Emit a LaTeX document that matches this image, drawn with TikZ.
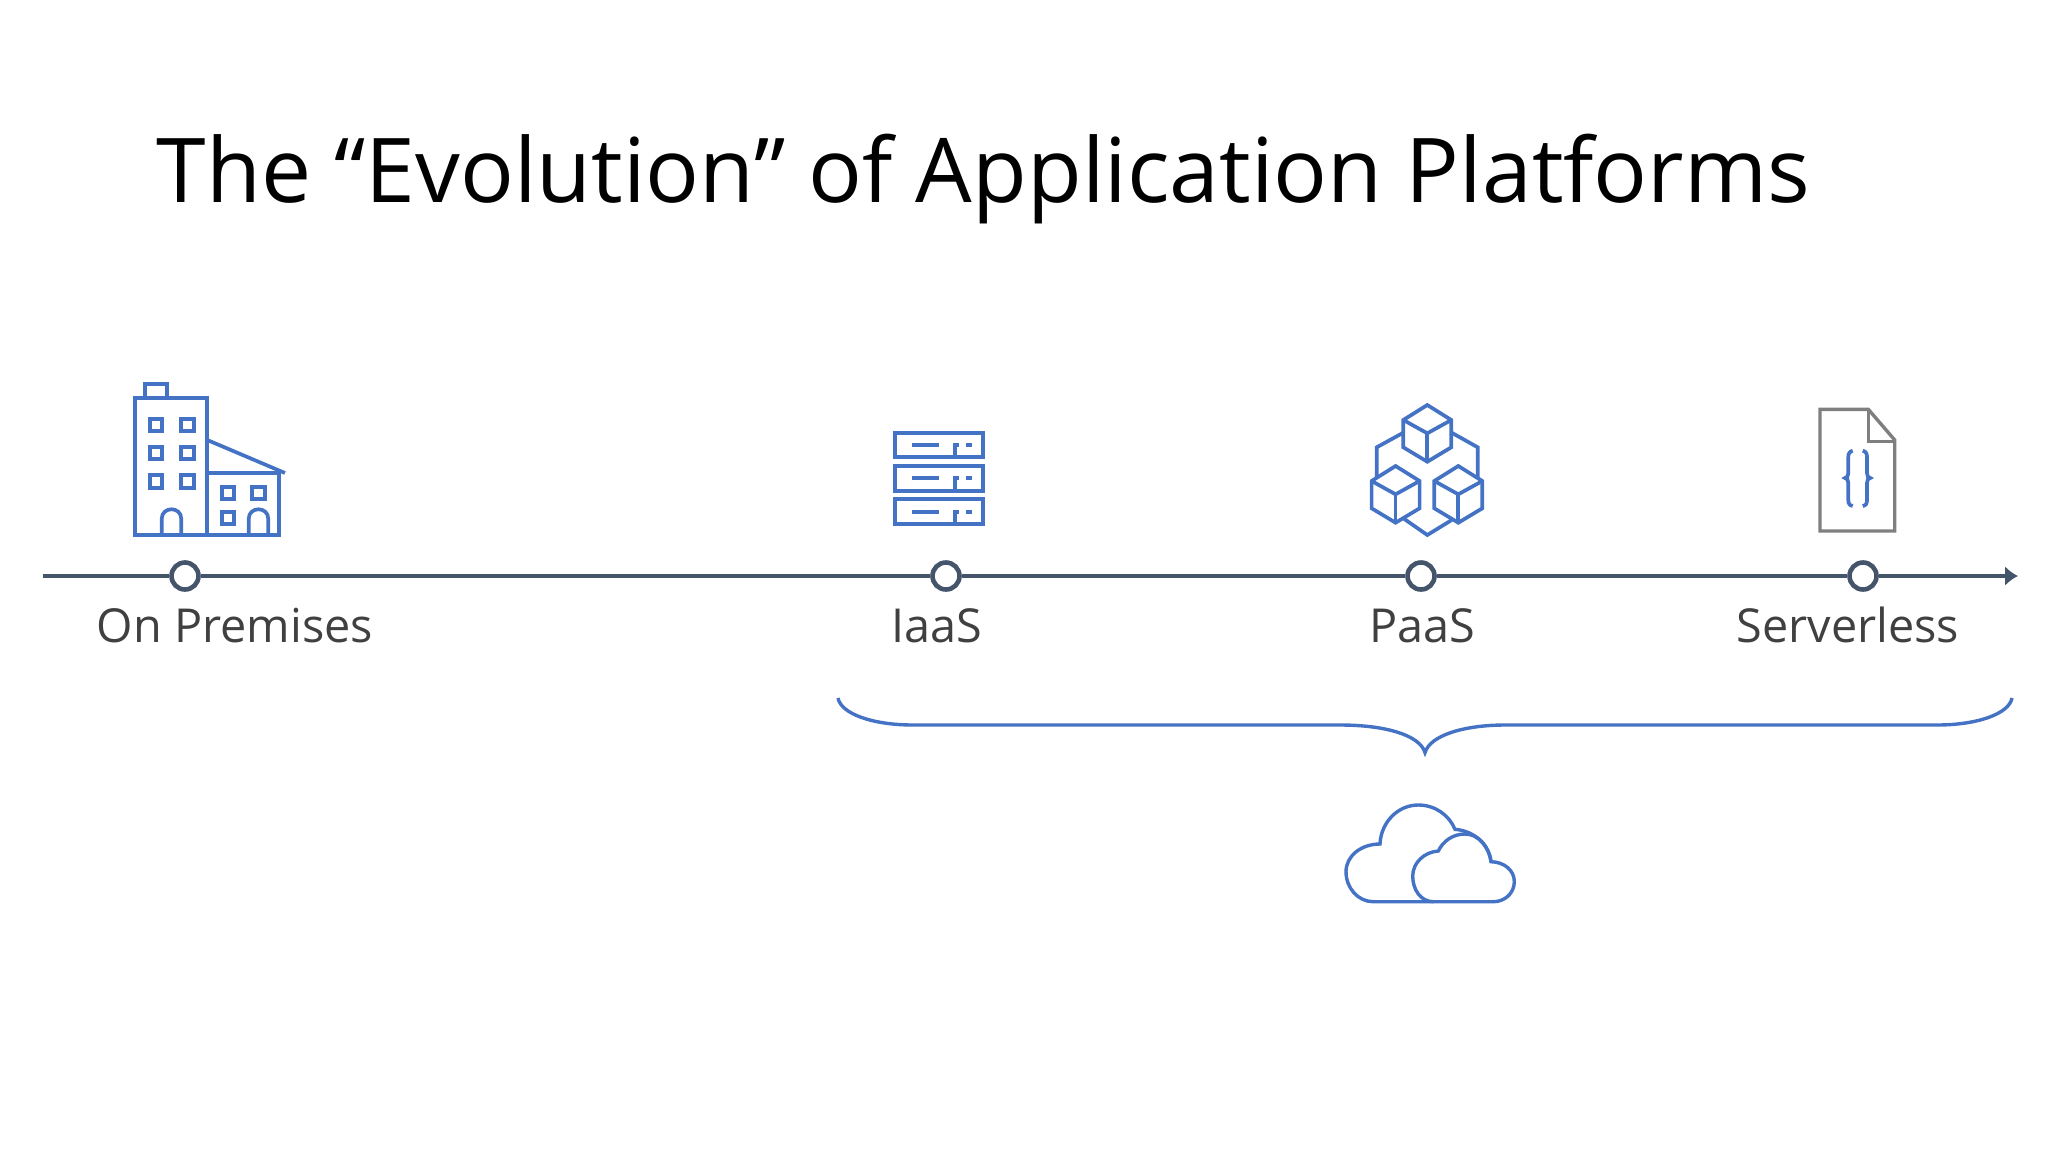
\documentclass[tikz,border=0pt]{standalone}
\usepackage{fontspec}
\setmainfont{Open Sans}
\usetikzlibrary{arrows.meta}
\definecolor{iconblue}{HTML}{4472C4}
\definecolor{axisblue}{HTML}{44546A}
\definecolor{icongray}{HTML}{7F7F7F}
\definecolor{labelgray}{HTML}{404040}
\tikzset{
  icon/.style={iconblue,line width=3.7pt},
  thinicon/.style={iconblue,line width=3.4pt},
  axis/.style={axisblue,line width=4.4pt},
  stop/.style={circle,draw=axisblue,fill=white,line width=4.6pt,inner sep=0pt,minimum size=27pt},
  label/.style={labelgray,font=\fontsize{46.8}{56}\selectfont,anchor=base}
}

\begin{document}
\begin{tikzpicture}[x=1pt,y=-1pt]
    \useasboundingbox (0,0) rectangle (2048,1152);
    \node[font=\fontsize{89.4}{106}\selectfont,anchor=base] (title) at (983.5,202){The “Evolution” of Application Platforms};
    % time line
    \coordinate (axisstart) at (43,576);
    \coordinate (axisend) at (2018,576);
    \node[stop] (onprem) at (185,576){};
    \node[stop] (iaas) at (946,576){};
    \node[stop] (paas) at (1421,576){};
    \node[stop] (serverless) at (1863,576){};
    \draw[axis] (axisstart)--(onprem);
    \draw[axis] (onprem)--(iaas);
    \draw[axis] (iaas)--(paas);
    \draw[axis] (paas)--(serverless);
    \draw[axis,-{Latex[length=13pt,width=20pt]}] (serverless)--(axisend);
    \node[label] (onpremlabel) at (235,642){On Premises};
    \node[label] (iaaslabel) at (937,642){IaaS};
    \node[label] (paaslabel) at (1422,642){PaaS};
    \node[label] (serverlesslabel) at (1848,642){Serverless};
    % building
    \draw[icon] (135.3,397.7) rectangle (207.3,534.7);
    \draw[icon] (145.3,397.7)--(145.3,383.7)--(166.7,383.7)--(166.7,397.7);
    \draw[icon] (149.7,419.3) rectangle (162.3,431);
    \draw[icon] (181,419.3) rectangle (193.7,431);
    \draw[icon] (149.7,447) rectangle (162.3,459);
    \draw[icon] (181,447) rectangle (193.7,459);
    \draw[icon] (149.7,475.3) rectangle (162.3,487.7);
    \draw[icon] (181,475.3) rectangle (193.7,487.7);
    \draw[icon] (161.7,534.7)--(161.7,519) .. controls (161.7,506) and (181.3,506) .. (181.3,519)--(181.3,534.7);
    \draw[icon] (207.3,472.7)--(279.3,472.7)--(279.3,534.7)--(207.3,534.7);
    \draw[icon] (207.3,440)--(285,473);
    \draw[icon] (221.7,486.7) rectangle (234,498.7);
    \draw[icon] (252.3,486.7) rectangle (265,498.7);
    \draw[icon] (221.7,512.3) rectangle (234,524.3);
    \draw[icon] (248.7,534.7)--(248.7,519) .. controls (248.7,506) and (268.3,506) .. (268.3,519)--(268.3,534.7);
    % servers
    \draw[icon] (895,432.7) rectangle (982.7,457.3);
    \draw[icon] (912.3,444.7)--(939,444.7);
    \draw[icon] (952.7,444.7)--(959,444.7);
    \draw[icon] (966,444.7)--(972.3,444.7);
    \draw[icon] (955.3,444.7)--(955.3,457.3);
    \draw[icon] (895,466) rectangle (982.7,490.7);
    \draw[icon] (912.3,478.3)--(939,478.3);
    \draw[icon] (952.7,478.3)--(959,478.3);
    \draw[icon] (966,478.3)--(972.3,478.3);
    \draw[icon] (955.3,478.3)--(955.3,490.7);
    \draw[icon] (895,499.3) rectangle (982.7,524.3);
    \draw[icon] (912.3,511.7)--(939,511.7);
    \draw[icon] (952.7,511.7)--(959,511.7);
    \draw[icon] (966,511.7)--(972.3,511.7);
    \draw[icon] (955.3,511.7)--(955.3,524.3);
    % cubes
    \draw[icon] (1427.3,405)--(1451.3,420)--(1451.3,447.3)--(1427.3,461.7)--(1403.3,447.3)--(1403.3,420)--cycle;
    \draw[icon] (1403.3,420)--(1427.3,433.3)--(1451.3,420);
    \draw[icon] (1427.3,433.3)--(1427.3,461.7);
    \draw[icon] (1395.6,466)--(1419.6,481)--(1419.6,508.3)--(1395.6,522.7)--(1371.6,508.3)--(1371.6,481)--cycle;
    \draw[icon] (1371.6,481)--(1395.6,494.3)--(1419.6,481);
    \draw[icon] (1395.6,494.3)--(1395.6,522.7);
    \draw[icon] (1458.3,466)--(1482.3,481)--(1482.3,508.3)--(1458.3,522.7)--(1434.3,508.3)--(1434.3,481)--cycle;
    \draw[icon] (1434.3,481)--(1458.3,494.3)--(1482.3,481);
    \draw[icon] (1458.3,494.3)--(1458.3,522.7);
    \draw[icon] (1403.3,432.7)--(1376.7,447.3)--(1376.7,477.3);
    \draw[icon] (1451.7,432.7)--(1477.7,447.3)--(1477.7,477.3);
    \draw[icon] (1403.3,518.3)--(1427.3,535)--(1451.7,520);
    % document
    \draw[icongray,line width=3.4pt] (1820,409.3)--(1868.3,409.3)--(1894.7,440)--(1894.7,531)--(1820,531)--cycle;
    \draw[icongray,line width=3.4pt] (1868.3,409.3)--(1868.3,441.5)--(1894.7,441.5);
    \draw[icon] (1852.7,450.7) .. controls (1849.5,451.5) and (1848.3,453.5) .. (1848.3,457)--(1848.3,473) .. controls (1848.3,476) and (1847,478) .. (1845,478) .. controls (1847,478) and (1848.3,480) .. (1848.3,483)--(1848.3,500) .. controls (1848.3,503.5) and (1849.5,505.5) .. (1852.7,506);
    \draw[icon] (1862.7,450.7) .. controls (1865.9,451.5) and (1867,453.5) .. (1867,457)--(1867,473) .. controls (1867,476) and (1868.3,478) .. (1870.3,478) .. controls (1868.3,478) and (1867,480) .. (1867,483)--(1867,500) .. controls (1867,503.5) and (1865.9,505.5) .. (1862.7,506);
    % brace
    \draw[thinicon] (838,698) .. controls (841,714) and (873,725) .. (913,725)--(1340,725) .. controls (1385,725) and (1420,735) .. (1425,752.7) .. controls (1430,735) and (1465,725) .. (1505,725)--(1937,725) .. controls (1977,725) and (2009,714) .. (2012,698);
    % cloud
    \draw[thinicon] (1373.3,901.7) .. controls (1358,901.7) and (1346,888) .. (1346,871.7) .. controls (1346,856) and (1361,844) .. (1380,844) .. controls (1381,822) and (1398,805) .. (1418.3,805) .. controls (1435,805) and (1449,815) .. (1455,829.3) .. controls (1475,831) and (1489,845) .. (1491,861.7) .. controls (1504,862) and (1514.3,870) .. (1514.3,881.7) .. controls (1514.3,893) and (1505,901.7) .. (1493.3,901.7)--cycle;
    \draw[thinicon] (1491,861.7) .. controls (1489,846) and (1478,834) .. (1465,834) .. controls (1453,834) and (1443,841) .. (1438.3,851) .. controls (1424,852) and (1412.7,863) .. (1412.7,876) .. controls (1412.7,890) and (1421,901.7) .. (1433.3,901.7);
\end{tikzpicture}
\end{document}
